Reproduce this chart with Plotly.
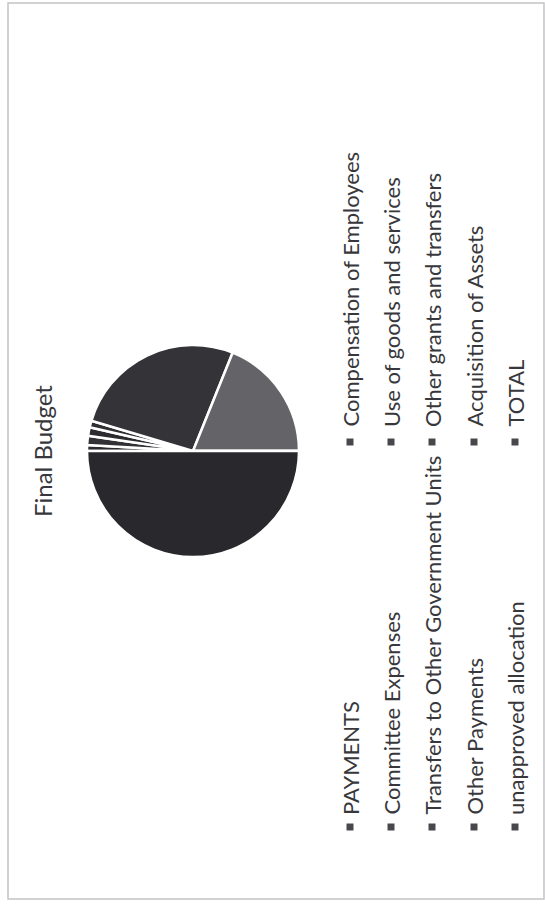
import plotly.graph_objects as go

# ---------------- data ----------------
categories = ["PAYMENTS", "Committee Expenses", "Transfers to Other Government Units",
              "Other Payments", "unapproved allocation", "Compensation of Employees",
              "Use of goods and services", "Other grants and transfers",
              "Acquisition of Assets", "TOTAL"]
values = [0, 0.9, 1.4, 1.3, 1.0, 26.5, 18.9, 0, 0, 50.0]
slice_colors = ["#2b2b30", "#2b2b30", "#313136", "#2b2b30", "#2e2e33",
                "#333338", "#646468", "#444448", "#444448", "#28282d"]
legend_left = ["PAYMENTS", "Committee Expenses", "Transfers to Other Government Units",
               "Other Payments", "unapproved allocation"]
legend_right = ["Compensation of Employees", "Use of goods and services",
                "Other grants and transfers", "Acquisition of Assets", "TOTAL"]
chart_title = "Final Budget"

# ---------------- layout constants (pixels) ----------------
W, H = 545, 905
cx, cy, r = 193, 451, 106
col_x = [350, 391, 432, 474, 515]
left_bullet_y, left_text_y = 827, 817
right_bullet_y, right_text_y = 442, 429
FONT = "Lato"
TXT = "#38383c"
LEG_SIZE = 22

fig = go.Figure()

fig.add_trace(go.Pie(
    labels=categories, values=values, sort=False, direction="clockwise",
    rotation=-90, textinfo="none", hoverinfo="label+value",
    marker=dict(colors=slice_colors, line=dict(color="white", width=2.5)),
    domain=dict(x=[(cx - r) / W, (cx + r) / W], y=[1 - (cy + r) / H, 1 - (cy - r) / H]),
    showlegend=False,
))

# legend bullets
bx = col_x + col_x
by = [left_bullet_y] * len(legend_left) + [right_bullet_y] * len(legend_right)
fig.add_trace(go.Scatter(
    x=bx, y=by, mode="markers", hoverinfo="skip", showlegend=False,
    marker=dict(symbol="square", size=7, color="#48484c"),
))

annotations = []
for i, t in enumerate(legend_left):
    annotations.append(dict(x=col_x[i], y=left_text_y, xref="x", yref="y", text=t,
                            textangle=-90, xanchor="center", yanchor="bottom",
                            showarrow=False, font=dict(family=FONT, size=LEG_SIZE, color=TXT)))
for i, t in enumerate(legend_right):
    annotations.append(dict(x=col_x[i], y=right_text_y, xref="x", yref="y", text=t,
                            textangle=-90, xanchor="center", yanchor="bottom",
                            showarrow=False, font=dict(family=FONT, size=LEG_SIZE, color=TXT)))
annotations.append(dict(x=42, y=451, xref="x", yref="y", text=chart_title, textangle=-90,
                        xanchor="center", yanchor="middle", showarrow=False,
                        font=dict(family=FONT, size=24, color=TXT)))

fig.update_layout(
    width=W, height=H, margin=dict(l=0, r=0, t=0, b=0),
    paper_bgcolor="white", plot_bgcolor="rgba(0,0,0,0)",
    xaxis=dict(range=[0, W], visible=False, domain=[0, 1], fixedrange=True),
    yaxis=dict(range=[H, 0], visible=False, domain=[0, 1], fixedrange=True),
    annotations=annotations,
    shapes=[dict(type="rect", xref="x", yref="y", x0=8, x1=544, y0=3, y1=899,
                 line=dict(color="#c4c4c8", width=1.5), layer="below")],
    showlegend=False,
)

fig.write_html("out.html")
